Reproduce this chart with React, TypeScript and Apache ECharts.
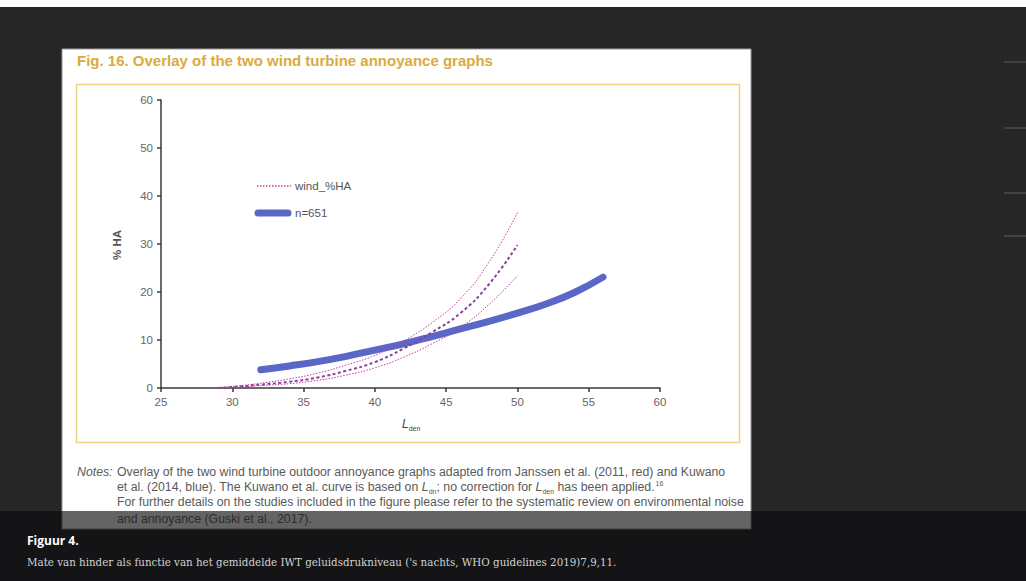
import React, { useEffect, useRef } from 'react';
import * as echarts from 'echarts';

// Janssen et al. (2011) wind %HA curve with its confidence bounds
const janssenX = [29, 30, 32, 34, 36, 38, 40, 42, 44, 46, 48, 50];
const janssenMid = [0, 0.2, 0.7, 1.3, 2.2, 3.6, 5.4, 8.2, 11.6, 15.6, 21.6, 29.8];
const janssenUpper = [0.1, 0.3, 1.0, 1.9, 3.1, 4.8, 6.8, 9.8, 13.6, 18.6, 26.2, 36.5];
const janssenLower = [0, 0.1, 0.5, 0.9, 1.6, 2.7, 4.2, 6.4, 9.2, 12.6, 17.4, 23.4];
// Kuwano et al. (2014) curve, n=651
const kuwanoX = [32, 34, 36, 38, 40, 42, 44, 46, 48, 50, 52, 54, 56];
const kuwanoHA = [3.8, 4.6, 5.5, 6.6, 7.9, 9.2, 10.7, 12.3, 13.9, 15.6, 17.5, 19.9, 23.1];

const xMin = 25, xMax = 60, xStep = 5;
const yMin = 0, yMax = 60, yStep = 10;

const legendNames = ['wind_%HA', 'n=651'];
const titleText = 'Fig. 16. Overlay of the two wind turbine annoyance graphs';
const notesLine1 = 'Overlay of the two wind turbine outdoor annoyance graphs adapted from Janssen et al. (2011, red) and Kuwano';
const notesLine3 = 'For further details on the studies included in the figure please refer to the systematic review on environmental noise';
const notesLine4 = 'and annoyance (Guski et al., 2017).';
const captionTitle = 'Figuur 4.';
const captionText = "Mate van hinder als functie van het gemiddelde IWT geluidsdrukniveau ('s nachts, WHO guidelines 2019)7,9,11.";

const pairs = (xs: number[], ys: number[]) => xs.map((x, i) => [x, ys[i]]);

export default function App() {
  const ref = useRef<HTMLDivElement>(null);
  useEffect(() => {
    if (!ref.current) return;
    const chart = echarts.init(ref.current, undefined, { renderer: 'svg' });
    const sans = 'Liberation Sans, Arial, sans-serif';
    const noteStyle = { fontFamily: sans, fontSize: 12.3, fill: '#5a5a5a' };
    const magenta = '#c2409c';
    const blue = '#5a67c6';
    const thin = { color: magenta, width: 1, type: [1.5, 1.5] as any };
    const smooth = 0.5;
    chart.setOption({
      animation: false,
      backgroundColor: '#262626',
      grid: { left: 161, top: 100, width: 499, height: 288 },
      xAxis: {
        type: 'value', min: xMin, max: xMax, interval: xStep,
        axisLine: { lineStyle: { color: '#3a3a3a', width: 1.5 } },
        axisTick: { show: true, length: 4, lineStyle: { color: '#3a3a3a', width: 1.5 } },
        axisLabel: { color: '#666', fontSize: 11.5, fontFamily: sans, margin: 8 },
        splitLine: { show: false },
      },
      yAxis: {
        type: 'value', min: yMin, max: yMax, interval: yStep,
        axisLine: { show: true, lineStyle: { color: '#3a3a3a', width: 1.5 } },
        axisTick: { show: true, length: 4, lineStyle: { color: '#3a3a3a', width: 1.5 } },
        axisLabel: { color: '#666', fontSize: 11.5, fontFamily: sans, margin: 8 },
        splitLine: { show: false },
      },
      series: [
        {
          name: legendNames[1], type: 'line', smooth, symbol: 'none',
          data: pairs(kuwanoX, kuwanoHA),
          lineStyle: { color: blue, width: 7, cap: 'round' },
          itemStyle: { color: blue },
          z: 2,
        },
        {
          name: legendNames[0], type: 'line', smooth, symbol: 'none',
          data: pairs(janssenX, janssenUpper),
          lineStyle: thin, itemStyle: { color: magenta }, z: 3,
        },
        {
          name: 'wind_%HA (mid)', type: 'line', smooth, symbol: 'none',
          data: pairs(janssenX, janssenMid),
          lineStyle: { color: '#8b3f9d', width: 2, type: [3, 2.5] },
          itemStyle: { color: '#8b3f9d' }, z: 3,
        },
        {
          name: 'wind_%HA (lower)', type: 'line', smooth, symbol: 'none',
          data: pairs(janssenX, janssenLower),
          lineStyle: thin, itemStyle: { color: magenta }, z: 3,
        },
      ],
      graphic: [
        { type: 'rect', z: -100, shape: { x: 0, y: 0, width: 1026, height: 7 }, style: { fill: '#ffffff' } },
        { type: 'rect', z: -100, shape: { x: 0, y: 511, width: 1026, height: 70 }, style: { fill: '#141416' } },
        { type: 'rect', z: -90, shape: { x: 62, y: 49, width: 689, height: 480 }, style: { fill: '#ffffff', stroke: '#9a9a9a', lineWidth: 1 } },
        { type: 'rect', z: -80, shape: { x: 76.5, y: 84.5, width: 663, height: 358 }, style: { fill: 'none', stroke: '#ead48a', lineWidth: 1.5 } },
        // faint side panel rules on the right
        { type: 'line', z: -80, shape: { x1: 1004, y1: 62, x2: 1026, y2: 62 }, style: { stroke: '#555', lineWidth: 1.2 } },
        { type: 'line', z: -80, shape: { x1: 1004, y1: 128, x2: 1026, y2: 128 }, style: { stroke: '#555', lineWidth: 1.2 } },
        { type: 'line', z: -80, shape: { x1: 1004, y1: 193, x2: 1026, y2: 193 }, style: { stroke: '#555', lineWidth: 1.2 } },
        { type: 'line', z: -80, shape: { x1: 1004, y1: 236, x2: 1026, y2: 236 }, style: { stroke: '#555', lineWidth: 1.2 } },
        // legend
        { type: 'line', z: 10, shape: { x1: 257, y1: 186, x2: 291, y2: 186 }, style: { stroke: magenta, lineWidth: 1.5, lineDash: [1.5, 1.5] } },
        { type: 'text', z: 10, x: 295, y: 186, style: { text: legendNames[0], fontFamily: sans, fontSize: 11.5, fill: '#555', verticalAlign: 'middle' } },
        { type: 'line', z: 10, shape: { x1: 258, y1: 213, x2: 288, y2: 213 }, style: { stroke: blue, lineWidth: 7, lineCap: 'round' } },
        { type: 'text', z: 10, x: 295, y: 213, style: { text: legendNames[1], fontFamily: sans, fontSize: 11.5, fill: '#555', verticalAlign: 'middle' } },
        {
          type: 'text', z: 10, x: 77, y: 60,
          style: { text: titleText, fontFamily: sans, fontSize: 15, fontWeight: 'bold', fill: '#dcaa3c', verticalAlign: 'middle' },
        },
        {
          type: 'text', z: 10, x: 117, y: 245, rotation: Math.PI / 2,
          style: { text: '% HA', fontFamily: sans, fontSize: 11.5, fontWeight: 'bold', fill: '#555', align: 'center', verticalAlign: 'middle' },
        },
        {
          type: 'text', z: 10, x: 402, y: 424,
          style: {
            text: '{l|L}{s|den}', verticalAlign: 'middle',
            rich: {
              l: { fontFamily: sans, fontSize: 12, fontStyle: 'italic', fill: '#444' },
              s: { fontFamily: sans, fontSize: 7, fill: '#444', padding: [8, 0, 0, 0] },
            },
          },
        },
        {
          type: 'text', z: 10, x: 77, y: 472,
          style: { text: 'Notes:', ...noteStyle, fontStyle: 'italic', verticalAlign: 'middle' },
        },
        { type: 'text', z: 10, x: 117, y: 472, style: { text: notesLine1, ...noteStyle, verticalAlign: 'middle' } },
        {
          type: 'text', z: 10, x: 117, y: 487,
          style: {
            text: 'et al. (2014, blue). The Kuwano et al. curve is based on {it|L}{sub|dn}; no correction for {it|L}{sub|den} has been applied.{sup|16}',
            ...noteStyle, verticalAlign: 'middle',
            rich: {
              it: { fontFamily: sans, fontSize: 12.3, fontStyle: 'italic', fill: '#5a5a5a' },
              sub: { fontFamily: sans, fontSize: 7, fill: '#5a5a5a', padding: [9, 0, 0, 0] },
              sup: { fontFamily: sans, fontSize: 7, fill: '#5a5a5a', padding: [0, 0, 7, 1] },
            },
          },
        },
        { type: 'text', z: 10, x: 117, y: 502, style: { text: notesLine3, ...noteStyle, verticalAlign: 'middle' } },
        { type: 'text', z: 10, x: 117, y: 519, style: { text: notesLine4, ...noteStyle, verticalAlign: 'middle' } },
        { type: 'rect', z: 50, shape: { x: 61, y: 511, width: 691, height: 19 }, style: { fill: '#141416', opacity: 0.66 } },
        {
          type: 'text', z: 60, x: 27, y: 540,
          style: { text: captionTitle, fontFamily: 'Open Sans, sans-serif', fontSize: 12, fontWeight: 'bold', fill: '#ffffff', verticalAlign: 'middle' },
        },
        {
          type: 'text', z: 60, x: 27, y: 562,
          style: { text: captionText, fontFamily: 'DejaVu Serif, serif', fontSize: 10.3, fill: '#d2d2d2', verticalAlign: 'middle' },
        },
      ],
    });
    return () => chart.dispose();
  }, []);
  return (
    <div
      ref={ref}
      style={{ position: 'fixed', left: 0, top: 0, width: 1026, height: 581 }}
    />
  );
}
